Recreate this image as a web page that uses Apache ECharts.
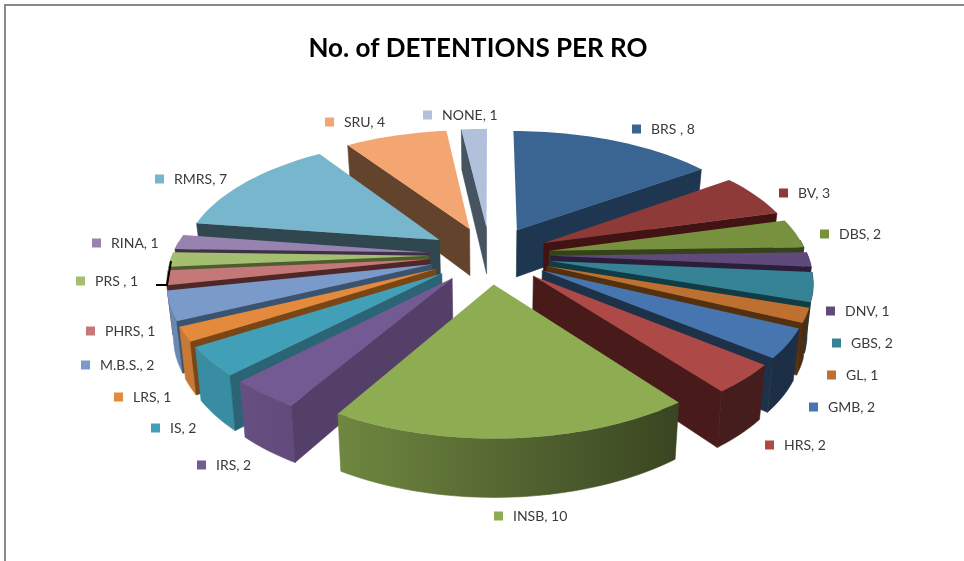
<!DOCTYPE html>
<html>
<head>
<meta charset="utf-8">
<title>No. of DETENTIONS PER RO</title>
<script src="https://cdn.jsdelivr.net/npm/echarts@6/dist/echarts.min.js"></script>
<style>
	html, body { margin: 0; padding: 0; background: #fff; }
	#my_echarts { width: 964px; height: 561px; }
</style>
</head>
<body>
<div id="my_echarts"></div>
<script>
var chartTitle = 'No. of DETENTIONS PER RO';
var categories = ['BRS ', 'BV', 'DBS', 'DNV', 'GBS', 'GL', 'GMB', 'HRS', 'INSB', 'IRS', 'IS', 'LRS', 'M.B.S.', 'PHRS', 'PRS ', 'RINA', 'RMRS', 'SRU', 'NONE'];
var values = [8, 3, 2, 1, 2, 1, 2, 2, 10, 2, 2, 1, 2, 1, 1, 1, 7, 4, 1];

// colours, top face and the dark radial wall
var topColors = ['#3A6491', '#8E3A38', '#78913F', '#5F4A7B', '#358394', '#BD7030', '#4675AF', '#AD4946', '#8EAD52', '#745A93', '#41A0B8', '#E38A3D', '#7A9AC9', '#C57878', '#A5BF70', '#9782B0', '#77B6CC', '#F4A672', '#B1C1DB'];
var wallColors = ['#1F3650', '#421313', '#35421B', '#2A1E3A', '#123C45', '#54300F', '#1D3249', '#481B1A', '#384520', '#533F68', '#2A6475', '#7A4615', '#3A5470', '#4F2729', '#4E5C2F', '#3F3048', '#30474F', '#64432C', '#465361'];
// legend square left edge and vertical centre of every label
var labelX = [632, 779, 820, 826, 832, 827, 809, 765, 494, 197, 151, 114, 81, 86, 76, 92, 155, 325, 423];
var labelY = [129, 193, 234, 311, 343, 375, 407, 445, 516, 465, 428, 397, 365, 331, 281, 243, 179, 122, 115];

// the fake 3d projection
var cx = 490, cy = 255, radiusX = 257, radiusY = 121;
var explode = 0.236, perspective = 0.15, depth = 48;

var total = values.reduce(function(a, b) { return a + b; }, 0);
var startAngles = [];
var sum = 0;
values.forEach(function(v) {
	startAngles.push(sum / total * Math.PI * 2);
	sum += v;
});

function project(gx, gy, gz) {
	var s = 1 / (1 - perspective * gy);
	return [cx + radiusX * gx * s * (1 - 0.0004 * gz), cy + radiusY * gy * s + gz * s];
}

function shade(hex, f) {
	var n = parseInt(hex.slice(1), 16);
	var r = Math.round((n >> 16 & 255) * f);
	var g = Math.round((n >> 8 & 255) * f);
	var b = Math.round((n & 255) * f);
	return 'rgb(' + r + ',' + g + ',' + b + ')';
}

function outerFactor(x) {
	return Math.max(0.4, Math.min(0.88, 0.78 - (x - 340) * 0.00112));
}

function renderSlice(params, api) {
	var i = api.value(0);
	var a1 = startAngles[i];
	var a2 = a1 + values[i] / total * Math.PI * 2;
	var mid = (a1 + a2) / 2;
	var ox = explode * Math.sin(mid), oy = -explode * Math.cos(mid);
	var rank = params.dataIndex * 10;

	function rim(a, gz) {
		return project(ox + Math.sin(a), oy - Math.cos(a), gz);
	}
	var apexTop = project(ox, oy, 0), apexBottom = project(ox, oy, depth);

	var arcTop = [], wallTop = [], wallBottom = [];
	var steps = Math.max(2, Math.ceil((a2 - a1) / 0.03));
	for (var k = 0; k <= steps; k++) {
		var a = a1 + (a2 - a1) * k / steps;
		arcTop.push(rim(a, 0));
		// the rim only shows on the part that faces the viewer
		if (Math.cos(a) < 0.1) {
			wallTop.push(rim(a, 0));
			wallBottom.push(rim(a, depth));
		}
	}

	var children = [];
	if (wallTop.length > 1) {
		var xs = wallTop.map(function(p) { return p[0]; });
		var minX = Math.min.apply(null, xs), maxX = Math.max.apply(null, xs);
		var left = shade(topColors[i], outerFactor(minX));
		var right = shade(topColors[i], outerFactor(maxX));
		var gradient = new echarts.graphic.LinearGradient(0, 0, 1, 0, [
			{ offset: 0, color: left },
			{ offset: 1, color: right }
		]);
		children.push({
			type: 'polygon',
			z2: rank + 1,
			shape: { points: wallTop.concat(wallBottom.slice().reverse()) },
			style: { fill: gradient, stroke: gradient, lineWidth: 0.6 }
		});
	}

	function wall(a) {
		children.push({
			type: 'polygon',
			z2: rank + 2,
			shape: { points: [apexTop, rim(a, 0), rim(a, depth), apexBottom] },
			style: { fill: wallColors[i], stroke: wallColors[i], lineWidth: 0.6 }
		});
	}
	if (Math.sin(a1) < -0.001) wall(a1);
	if (Math.sin(a2) > 0.001) wall(a2);

	children.push({
		type: 'polygon',
		z2: rank + 3,
		shape: { points: [apexTop].concat(arcTop) },
		style: { fill: topColors[i] }
	});

	// legend square and text
	children.push({
		type: 'rect',
		z2: 1000,
		shape: { x: labelX[i], y: labelY[i] - 4.5, width: 9, height: 9 },
		style: { fill: topColors[i] }
	});
	children.push({
		type: 'text',
		z2: 1000,
		style: {
			x: labelX[i] + 19,
			y: labelY[i],
			text: categories[i] + ', ' + values[i],
			fill: '#3a3a3a',
			font: '14px Lato',
			verticalAlign: 'middle'
		}
	});
	return { type: 'group', children: children };
}

// paint back to front
var order = categories.map(function(c, i) { return i; });
function middle(i) {
	return startAngles[i] + values[i] / total * Math.PI;
}
order.sort(function(a, b) {
	return Math.cos(middle(b)) - Math.cos(middle(a));
});

var myChart = echarts.init(document.getElementById('my_echarts'));
myChart.setOption({
	animation: false,
	backgroundColor: '#fff',
	title: {
		text: chartTitle,
		left: 473,
		top: 31,
		textAlign: 'center',
		textStyle: { fontFamily: 'Lato', fontSize: 26, fontWeight: 'bold', color: '#000' }
	},
	graphic: [
		{
			type: 'polyline',
			shape: { points: [[5, 561], [5, 5], [964, 5]] },
			style: { stroke: '#888', lineWidth: 2, fill: null }
		},
		{
			type: 'polyline',
			z: 10,
			shape: { points: [[156, 285], [167, 285], [171, 261]] },
			style: { stroke: '#000', lineWidth: 2, fill: null }
		}
	],
	series: [{
		type: 'custom',
		coordinateSystem: 'none',
		silent: true,
		clip: false,
		data: order.map(function(i) { return [i, values[i]]; }),
		renderItem: renderSlice
	}]
});
</script>
</body>
</html>
